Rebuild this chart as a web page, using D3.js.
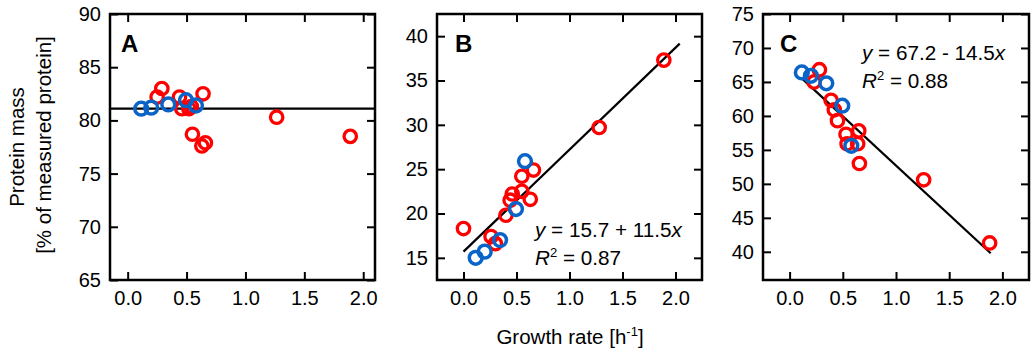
<!DOCTYPE html>
<html><head><meta charset="utf-8">
<script src="https://cdn.jsdelivr.net/npm/d3@7"></script>
<style>body{margin:0;background:#fff}svg{display:block}text{font-family:"Liberation Sans",Arial,sans-serif;fill:#000}</style>
</head><body><svg id="c" width="1031" height="351"></svg>
<script>
// ---- data ----
const xTicks = [0.0, 0.5, 1.0, 1.5, 2.0];
const yTicksA = [65, 70, 75, 80, 85, 90];
const yTicksB = [15, 20, 25, 30, 35, 40];
const yTicksC = [40, 45, 50, 55, 60, 65, 70, 75];

const blueRate = [0.115, 0.20, 0.345, 0.495, 0.58];
const blueA = [81.1, 81.2, 81.5, 81.9, 81.4];
const blueB = [15.0, 15.7, 17.0, 20.5, 25.9];
const blueC = [66.4, 65.9, 64.8, 61.5, 55.6];

const redRateA = [0.25, 0.29, 0.44, 0.46, 0.52, 0.54, 0.55, 0.63, 0.64, 0.66, 1.265, 1.89];
const redA     = [82.2, 83.0, 82.2, 81.1, 81.1, 81.3, 78.7, 77.6, 82.5, 77.9, 80.3, 78.5];
const redRateB = [0.0, 0.26, 0.30, 0.40, 0.44, 0.46, 0.55, 0.55, 0.63, 0.66, 1.28, 1.89];
const redB     = [18.3, 17.4, 16.6, 19.8, 21.5, 22.2, 24.2, 22.5, 21.6, 24.9, 29.7, 37.3];
const redRateC = [0.23, 0.28, 0.39, 0.42, 0.45, 0.53, 0.54, 0.64, 0.65, 0.656, 1.26, 1.88];
const redC     = [65.0, 66.8, 62.3, 60.9, 59.3, 57.3, 55.9, 55.9, 57.8, 53.0, 50.6, 41.3];

// fits: [intercept, slope, xStart, xEnd]
const fitA = [81.1, 0, -0.15, 2.1];
const fitB = [15.7, 11.5, 0.0, 2.04];
const fitC = [67.2, -14.5, 0.11, 1.89];
const eqB = ["15.7 + 11.5", "0.87"];
const eqC = ["67.2 - 14.5", "0.88"];

const svg = d3.select("#c");
const yTop = 14, yBot = 280;
const panels = [
  {id:"A", x0:110, x1:375, xd:[-0.15, 2.1], yd:[65, 90], yt:yTicksA,
   rr:redRateA, rv:redA, bv:blueA, fit:fitA, lx:121, eq:null},
  {id:"B", x0:437, x1:702, xd:[-0.25, 2.25], yd:[12.5, 42.5], yt:yTicksB,
   rr:redRateB, rv:redB, bv:blueB, fit:fitB, lx:455, eq:eqB, ex:535, ey:237},
  {id:"C", x0:763, x1:1029, xd:[-0.25, 2.25], yd:[35.85, 75], yt:yTicksC,
   rr:redRateC, rv:redC, bv:blueC, fit:fitC, lx:780, eq:eqC, ex:862, ey:60},
];

const FS = 20, FL = 20.5, FE = 20.7;
panels.forEach(p => {
  const x = d3.scaleLinear().domain(p.xd).range([p.x0, p.x1]);
  const y = d3.scaleLinear().domain(p.yd).range([yBot, yTop]);
  const g = svg.append("g");

  const axStyle = sel => {
    sel.select(".domain").remove();
    sel.selectAll("line").attr("stroke","#000").attr("stroke-width",2);
    sel.selectAll("text").attr("font-size",FS).attr("font-family",'"Liberation Sans",Arial,sans-serif');
  };
  g.append("g").attr("transform",`translate(${p.x0},0)`)
    .call(d3.axisLeft(y).tickValues(p.yt).tickSize(-8).tickPadding(9).tickFormat(d3.format("d"))).call(axStyle);
  g.append("g").attr("transform",`translate(${p.x1},0)`)
    .call(d3.axisRight(y).tickValues(p.yt).tickSize(-8).tickFormat("")).call(axStyle);
  g.append("g").attr("transform",`translate(0,${yBot})`)
    .call(d3.axisBottom(x).tickValues(xTicks).tickSize(-8).tickPadding(11).tickFormat(d3.format(".1f"))).call(axStyle);
  g.append("g").attr("transform",`translate(0,${yTop})`)
    .call(d3.axisTop(x).tickValues(xTicks).tickSize(-8).tickFormat("")).call(axStyle);

  g.append("rect").attr("x",p.x0).attr("y",yTop).attr("width",p.x1-p.x0).attr("height",yBot-yTop)
    .attr("fill","none").attr("stroke","#000").attr("stroke-width",2.5);

  // fit line
  const f = p.fit;
  g.append("line").attr("x1",x(f[2])).attr("x2",x(f[3]))
    .attr("y1",y(f[0]+f[1]*f[2])).attr("y2",y(f[0]+f[1]*f[3]))
    .attr("stroke","#000").attr("stroke-width",2.2);

  // red points
  g.append("g").selectAll("circle").data(p.rr.map((r,i)=>[r,p.rv[i]])).join("circle")
    .attr("cx",d=>x(d[0])).attr("cy",d=>y(d[1])).attr("r",6.2)
    .attr("fill","none").attr("stroke","#ff0000").attr("stroke-width",3.3);
  // blue points
  g.append("g").selectAll("circle").data(blueRate.map((r,i)=>[r,p.bv[i]])).join("circle")
    .attr("cx",d=>x(d[0])).attr("cy",d=>y(d[1])).attr("r",6.4)
    .attr("fill","none").attr("stroke","#0a64c8").attr("stroke-width",3.5);

  // panel letter
  g.append("text").attr("x",p.lx).attr("y",51.7).attr("font-size",24).attr("font-weight","bold").text(p.id);

  if (p.eq) {
    const t1 = g.append("text").attr("x",p.ex).attr("y",p.ey).attr("font-size",FE);
    t1.append("tspan").attr("font-style","italic").text("y");
    t1.append("tspan").text(" = " + p.eq[0]);
    t1.append("tspan").attr("font-style","italic").text("x");
    const t2 = g.append("text").attr("x",p.ex).attr("y",p.ey+28).attr("font-size",FE);
    t2.append("tspan").attr("font-style","italic").text("R");
    t2.append("tspan").attr("font-size",13).attr("dy",-8).text("2");
    t2.append("tspan").attr("dy",8).text(" = " + p.eq[1]);
  }
});

// axis titles
svg.append("text").attr("transform","translate(24,147) rotate(-90)").attr("text-anchor","middle").attr("font-size",FL)
  .text("Protein mass");
svg.append("text").attr("transform","translate(51,145) rotate(-90)").attr("text-anchor","middle").attr("font-size",FL)
  .text("[% of measured protein]");
const xl = svg.append("text").attr("x",570).attr("y",344).attr("text-anchor","middle").attr("font-size",FL);
xl.append("tspan").text("Growth rate [h");
xl.append("tspan").attr("font-size",13).attr("dy",-8).text("-1");
xl.append("tspan").attr("dy",8).text("]");
</script></body></html>
